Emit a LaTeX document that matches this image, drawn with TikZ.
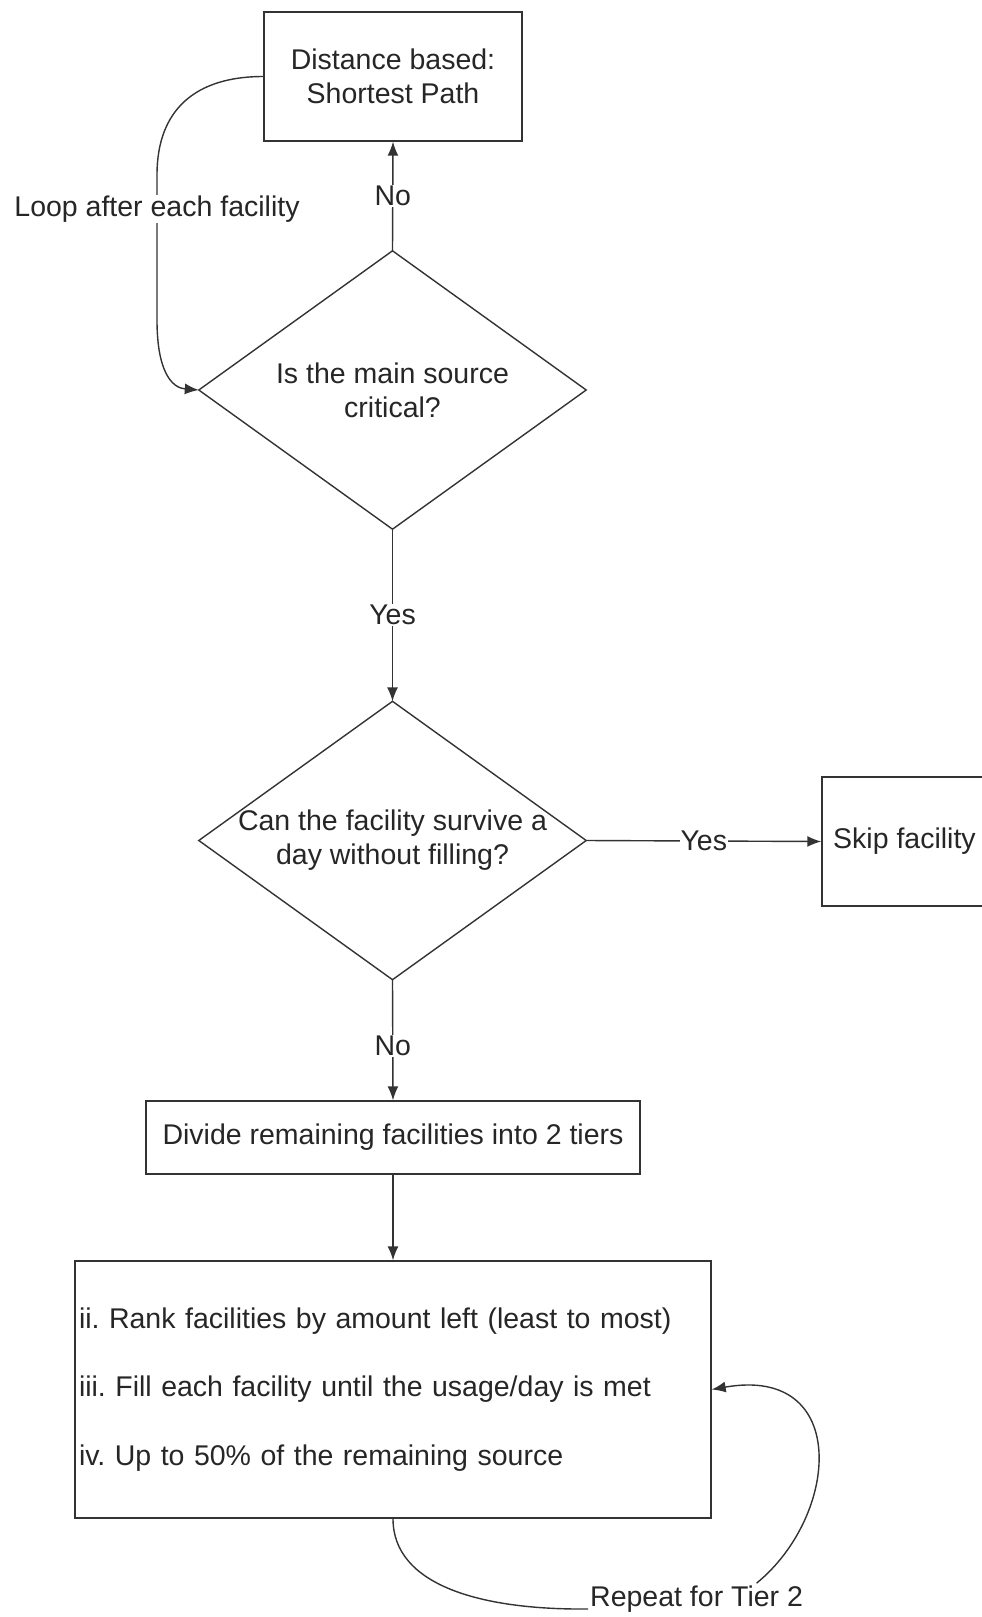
\documentclass[tikz,border=0pt]{standalone}
\usepackage{fontspec}
\setmainfont{Liberation Sans}
\usetikzlibrary{arrows.meta}
\frenchspacing
\begin{document}
\begin{tikzpicture}[x=1pt,y=-1pt,
  every node/.style={font=\fontsize{28.5}{34}\selectfont, text=black!85},
  line/.style={draw=black!80, line width=1.4pt},
  arr/.style={line, -{Latex[length=14pt,width=11pt]}},
  box/.style={draw=black!80, line width=1.4pt, rectangle, inner sep=0pt, align=center},
  dia/.style={rectangle, inner sep=0pt, align=center, minimum width=387pt, minimum height=278pt},
  lbl/.style={fill=white, inner sep=1pt}]
\useasboundingbox (0,0) rectangle (982,1617);

\node[box, minimum width=258pt, minimum height=129pt] (b1) at (393,76.5) {Distance based:\\Shortest Path};
\node[dia] (d1) at (392.5,390) {Is the main source\\critical?};
\draw[line] (d1.north) -- (d1.east) -- (d1.south) -- (d1.west) -- cycle;
\node[dia] (d2) at (392.5,840.5) {Can the facility survive a\\day without filling?};
\draw[line] (d2.north) -- (d2.east) -- (d2.south) -- (d2.west) -- cycle;
\node[box, minimum width=165pt, minimum height=129pt] (skip) at (904.5,841.5) {Skip facility};
\node[box, minimum width=494pt, minimum height=73pt] (b3) at (393,1137.5) {Divide remaining facilities into 2 tiers};
\node[box, minimum width=636pt, minimum height=257pt, text width=628pt, align=left, inner xsep=4pt,
  font=\fontsize{28.5}{68.6}\selectfont] (b4) at (393,1389.5)
  {ii. Rank facilities by amount left (least to most)\\iii. Fill each facility until the usage/day is met\\iv. Up to 50\% of the remaining source};

\draw[arr] (d1.north) -- node[lbl]{No} (b1.south);
\draw[arr] (d1.south) -- node[lbl]{Yes} (d2.north);
\draw[arr] (d2.east) -- node[lbl]{Yes} (skip.west);
\draw[arr] (d2.south) -- node[lbl,pos=0.55]{No} (b3.north);
\draw[arr] (b3.south) -- (b4.north);

\draw[arr] (b1.west) .. controls (195,76.5) and (157,110) .. (157,175)
  -- node[lbl]{Loop after each facility} (157,243)
  -- (157,320) .. controls (157,372) and (172,388) .. (d1.west);

\node[inner sep=2pt, anchor=base west] (rep) at (588,1606) {Repeat for Tier 2};
\draw[line] (b4.south) .. controls (393,1585) and (480,1610) .. ([yshift=-3pt]rep.base west);
\draw[arr] ([xshift=60pt]rep.north) .. controls (840,1515) and (850,1365) .. (b4.east);
\end{tikzpicture}
\end{document}
